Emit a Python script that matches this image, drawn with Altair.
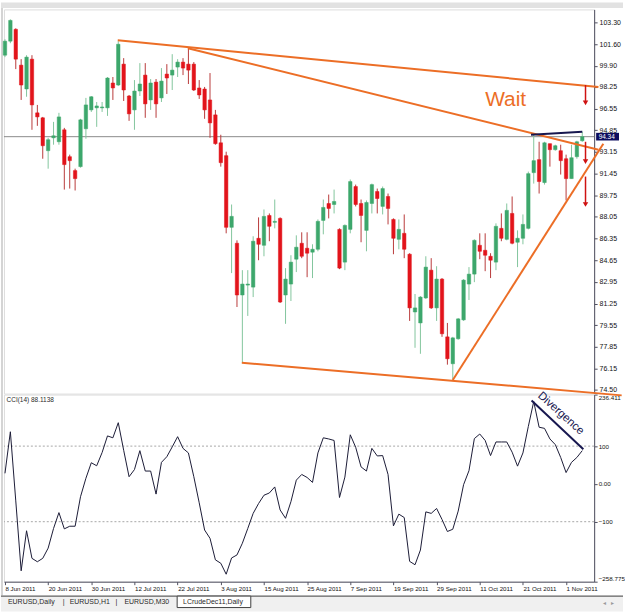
import json
import altair as alt
import pandas as pd

# ---------------- data ----------------
date_labels = ['8 Jun 2011', '20 Jun 2011', '30 Jun 2011', '12 Jul 2011', '22 Jul 2011',
               '3 Aug 2011', '15 Aug 2011', '25 Aug 2011', '7 Sep 2011', '19 Sep 2011',
               '29 Sep 2011', '11 Oct 2011', '21 Oct 2011', '1 Nov 2011']

opens = [100.73, 101.83, 102.76, 99.95, 98.08, 100.42, 96.21, 95.82, 93.24, 94.25,
         93.94, 94.88, 92.77, 91.68, 91.99, 94.96, 96.44, 96.60, 96.60, 96.60,
         98.55, 98.39, 100.03, 97.53, 96.44, 97.92, 99.17, 97.22, 98.62, 97.38,
         99.25, 99.17, 99.80, 100.19, 100.03, 100.03, 98.16, 98.08, 97.22, 96.05,
         93.86, 92.85, 87.23, 85.98, 81.92, 82.70, 82.54, 86.37, 85.82, 88.16,
         87.62, 87.93, 81.92, 82.78, 84.73, 85.98, 85.59, 85.28, 85.51, 87.77,
         89.10, 89.02, 87.07, 84.50, 87.07, 90.43, 89.10, 86.99, 89.10, 90.04,
         88.87, 89.65, 87.85, 86.29, 86.76, 85.12, 80.59, 79.73, 81.69, 83.87,
         80.91, 83.17, 78.64, 76.53, 78.49, 79.97, 82.78, 83.56, 85.82, 85.43,
         84.96, 84.50, 87.15, 86.29, 88.32, 86.06, 86.37, 87.15, 91.52, 92.54,
         90.74, 93.79, 93.32, 93.24, 92.61, 91.05, 92.77, 94.02]
highs = [101.98, 103.54, 102.84, 100.42, 100.73, 100.73, 96.83, 95.89, 94.25, 95.50,
         96.21, 95.03, 92.93, 91.83, 95.74, 97.38, 97.53, 97.06, 97.06, 99.02,
         99.02, 101.83, 100.50, 97.61, 98.78, 100.11, 100.11, 98.86, 98.86, 99.72,
         100.03, 100.81, 100.42, 100.50, 101.28, 100.19, 98.78, 98.24, 99.33, 96.44,
         94.49, 93.16, 89.02, 86.21, 83.87, 83.87, 86.53, 88.01, 88.63, 88.32,
         89.41, 88.01, 84.03, 85.04, 86.60, 86.84, 86.84, 85.90, 87.85, 89.41,
         89.80, 90.19, 87.15, 87.46, 90.98, 90.58, 89.41, 89.34, 90.66, 90.27,
         90.43, 89.88, 87.93, 87.85, 88.24, 85.20, 82.00, 81.84, 84.96, 84.81,
         84.18, 83.25, 79.73, 78.64, 80.12, 83.17, 84.11, 86.29, 86.76, 86.76,
         85.20, 87.54, 88.32, 89.10, 89.65, 86.99, 88.24, 91.60, 94.49, 93.94,
         93.94, 93.79, 93.71, 93.71, 92.93, 93.71, 94.02, 94.72]
lows = [100.58, 101.67, 99.64, 97.22, 97.47, 94.88, 95.19, 92.61, 91.83, 93.71,
        93.71, 90.19, 90.27, 90.12, 91.91, 94.18, 96.28, 95.11, 96.28, 95.97,
        97.22, 98.31, 97.14, 95.58, 94.88, 97.53, 95.82, 96.44, 95.82, 97.06,
        97.69, 98.00, 99.02, 99.17, 98.47, 97.92, 97.30, 95.74, 94.25, 93.71,
        91.99, 86.76, 83.64, 80.98, 76.61, 80.28, 81.76, 84.65, 84.96, 86.14,
        87.15, 81.30, 79.66, 81.45, 83.72, 84.81, 83.32, 83.25, 85.35, 86.68,
        87.93, 88.32, 83.95, 83.87, 86.76, 88.87, 86.06, 85.35, 88.32, 88.32,
        88.24, 87.46, 85.12, 85.51, 84.81, 79.89, 77.78, 77.31, 81.61, 80.83,
        79.89, 78.64, 76.46, 75.29, 78.41, 79.89, 81.53, 82.93, 84.73, 83.79,
        83.25, 83.87, 86.14, 86.21, 85.90, 84.11, 85.90, 87.07, 90.66, 89.88,
        90.58, 91.99, 93.24, 91.37, 89.34, 91.05, 92.61, 93.94]
closes = [101.83, 103.46, 100.42, 98.39, 100.58, 96.83, 95.89, 93.63, 94.10, 94.41,
          95.89, 92.15, 92.46, 91.05, 95.66, 96.83, 97.47, 96.75, 96.67, 98.94,
          98.16, 101.59, 98.00, 96.13, 97.92, 98.47, 96.91, 98.55, 96.91, 98.70,
          98.94, 99.56, 100.19, 99.72, 99.56, 98.00, 97.61, 96.44, 95.42, 93.79,
          92.30, 87.23, 88.09, 81.92, 82.78, 82.78, 86.14, 85.90, 88.09, 87.31,
          87.70, 81.37, 83.17, 84.50, 85.67, 84.96, 85.20, 85.51, 87.70, 88.79,
          88.71, 89.26, 84.03, 87.38, 90.82, 89.02, 88.16, 89.18, 90.58, 89.49,
          90.27, 88.71, 86.37, 87.07, 85.51, 80.91, 80.91, 81.76, 84.11, 80.91,
          83.17, 78.88, 76.92, 78.56, 80.05, 83.09, 83.56, 86.21, 85.35, 85.04,
          84.65, 87.31, 86.37, 88.56, 85.98, 86.37, 87.46, 91.44, 92.46, 90.82,
          93.86, 93.32, 93.63, 92.46, 91.05, 92.69, 93.94, 94.34]
cci = [28, 138, -45, -230, -124, -197, -206, -197, -170, -118,
       -76, -119, -112, -112, -34, 15, 56, 48, 83, 127,
       122, 162, 89, 19, 38, 88, 34, 34, -27, 57,
       72, 98, 125, 94, 82, 19, -50, -122, -144, -201,
       -210, -239, -196, -188, -157, -118, -78, -52, -30, -24,
       -8, -69, -91, -47, 10, 25, 17, 4, 82, 122,
       119, 115, -36, 18, 130, 97, 45, 34, 94, 74,
       75, 25, -111, -80, -89, -205, -214, -175, -74, -78,
       -65, -94, -126, -120, -72, -2, 35, 120, 132, 115,
       75, 111, 111, 111, 84, 47, 82, 152, 218, 150,
       147, 119, 104, 70, 30, 57, 70, 88.1138]

price_ticks = [103.30, 101.60, 99.90, 98.25, 96.55, 94.85, 93.15, 91.45, 89.75,
               88.05, 86.35, 84.65, 82.95, 81.25, 79.55, 77.85, 76.15, 74.50]
cci_ticks = [236.411, 100, 0, -100, -258.775]
cci_levels = [100, -100]

# hand-drawn objects (bar index, price)
trend_x1 = [20.9, 33.9, 43.9, 83.0]
trend_p1 = [101.90, 101.28, 76.61, 75.25]
trend_x2 = [110.0, 110.0, 114.3, 110.9]
trend_p2 = [98.24, 93.32, 74.05, 93.79]
flat_x = [97.5, 107.0]
flat_p = [94.49, 94.72]
arrow_x = [107.6, 107.6, 107.6]
arrow_top = [98.39, 93.94, 91.21]
arrow_head = [96.99, 92.38, 89.02]
wait_x, wait_p = 92.8, 96.72
div_x = [97.6, 107.2]
div_v = [220.6, 91.5]
div_text_x, div_text_v = 103.0, 186.0

tabs = ['EURUSD,Daily', 'EURUSD,H1', 'EURUSD,M30', 'LCrudeDec11,Daily']

# ---------------- chart ----------------
FONT = 'Liberation Sans'
UP_BODY, UP_WICK = '#3da76c', '#83c69d'
DN_BODY, DN_WICK = '#e2141b', '#b83a3a'
ORANGE = '#ec6e26'
NAVY = '#17174f'
ARROW = '#cf1212'
AX = '#505060'

n = len(opens)
candles = pd.DataFrame({'idx': list(range(n)), 'open': opens, 'high': highs,
                        'low': lows, 'close': closes})
cci_df = pd.DataFrame({'idx': list(range(n)), 'cci': cci})
last = closes[-1]

W, H_PRICE, H_CCI = 593, 386, 188
xs = alt.Scale(domain=[-0.185, 109.2], nice=False, zero=False)
ys = alt.Scale(domain=[74.19, 104.32], nice=False, zero=False)
cs = alt.Scale(domain=[-258.775, 236.411], nice=False, zero=False)

px_axis = alt.Axis(orient='right', values=price_ticks, format='.2f', grid=False,
                   tickSize=3, tickColor=AX, domainColor=AX, labelFontSize=7,
                   labelColor='#111111', labelPadding=2, labelFont=FONT, title=None,
                   labelOverlap=False, labelFlush=False)
date_axis = alt.Axis(values=[8 * k for k in range(len(date_labels))],
                     labelExpr=json.dumps(date_labels) + '[round(datum.value / 8)]',
                     labelAlign='left', labelFontSize=6.2, labelFont=FONT,
                     labelColor='#111111', tickSize=3, labelPadding=1, grid=False,
                     domainColor=AX, tickColor=AX, labelFlush=False,
                     labelOverlap=False, title=None)
cci_axis = alt.Axis(orient='right', values=cci_ticks,
                    labelExpr="datum.value == 0 ? '0.00' : (abs(datum.value) == 100 ? format(datum.value, 'd') : format(datum.value, '.3f'))",
                    grid=False, tickSize=3, tickColor=AX, domainColor=AX,
                    labelFontSize=6.3, labelFont=FONT, labelColor='#111111',
                    labelPadding=1, labelFlush=True, labelOverlap=False, title=None)


def XP(f):
    return alt.X(f, scale=xs, axis=None)


def YP(f):
    return alt.Y(f, scale=ys, axis=px_axis)


def XC(f):
    return alt.X(f, scale=xs, axis=date_axis)


def YC(f):
    return alt.Y(f, scale=cs, axis=cci_axis)


one = pd.DataFrame({'k': [0]})
up_test = 'datum.close >= datum.open'

top_strip = alt.Chart(one).mark_rect(color='#e2e2e2').encode(
    x=alt.value(-3), x2=alt.value(622), y=alt.value(-7), y2=alt.value(-1.5))
left_strip_p = alt.Chart(one).mark_rect(color='#d4d4d4').encode(
    x=alt.value(-3), x2=alt.value(-1), y=alt.value(-1.5), y2=alt.value(H_PRICE + 1))

cur_line = alt.Chart(pd.DataFrame({'p': [last]})).mark_rule(
    color='#8a8a8a', strokeWidth=1).encode(y=YP('p:Q'))

wicks = alt.Chart(candles).mark_rule(strokeWidth=1).encode(
    x=XP('idx:Q'), y=YP('low:Q'), y2='high:Q',
    color=alt.condition(up_test, alt.value(UP_WICK), alt.value(DN_WICK)))

bodies = alt.Chart(candles).transform_calculate(
    xl='datum.idx - 0.32', xr='datum.idx + 0.32'
).mark_bar(strokeWidth=0.5).encode(
    x=XP('xl:Q'), x2='xr:Q', y=YP('open:Q'), y2='close:Q',
    fill=alt.condition(up_test, alt.value(UP_BODY), alt.value(DN_BODY)),
    stroke=alt.condition(up_test, alt.value(UP_BODY), alt.value(DN_BODY)))

trend = alt.Chart(pd.DataFrame({'x1': trend_x1, 'p1': trend_p1, 'x2': trend_x2,
                                'p2': trend_p2})).mark_rule(
    color=ORANGE, strokeWidth=2).encode(x=XP('x1:Q'), x2='x2:Q', y=YP('p1:Q'), y2='p2:Q')

flat = alt.Chart(pd.DataFrame({'x1': [flat_x[0]], 'x2': [flat_x[1]], 'p1': [flat_p[0]],
                               'p2': [flat_p[1]]})).mark_rule(
    color=NAVY, strokeWidth=2).encode(x=XP('x1:Q'), x2='x2:Q', y=YP('p1:Q'), y2='p2:Q')

arrows_df = pd.DataFrame({'x': arrow_x, 'top': arrow_top, 'head': arrow_head})
shafts = alt.Chart(arrows_df).mark_rule(color=ARROW, strokeWidth=1.5).encode(
    x=XP('x:Q'), y=YP('top:Q'), y2='head:Q')
heads = alt.Chart(arrows_df).mark_point(shape='triangle-down', filled=True, size=30,
                                        color=ARROW, opacity=1).encode(
    x=XP('x:Q'), y=YP('head:Q'))

wait = alt.Chart(pd.DataFrame({'x': [wait_x], 'p': [wait_p], 't': ['Wait']})).mark_text(
    fontSize=21, font=FONT, color=ORANGE, align='center', baseline='alphabetic').encode(
    x=XP('x:Q'), y=YP('p:Q'), text='t:N')

box = alt.Chart(pd.DataFrame({'p1': [last - 0.3], 'p2': [last + 0.3]})).mark_rect(
    color='#0c0c5e').encode(x=alt.value(595), x2=alt.value(618), y=YP('p1:Q'), y2='p2:Q')
box_text = alt.Chart(pd.DataFrame({'p': [last], 't': [f'{last:.2f}']})).mark_text(
    fontSize=6.5, font=FONT, color='white', align='left', baseline='middle').encode(
    x=alt.value(597.5), y=YP('p:Q'), text='t:N')

price_chart = alt.layer(
    top_strip, left_strip_p, cur_line, wicks, bodies, trend, flat, shafts, heads,
    wait, box, box_text
).properties(width=W, height=H_PRICE)

# ---- CCI pane ----
levels = alt.Chart(pd.DataFrame({'v': cci_levels})).mark_rule(
    color='#a6a6a6', strokeDash=[2, 2], strokeWidth=1).encode(y=YC('v:Q'))
cci_line = alt.Chart(cci_df).mark_line(color='#1b1b36', strokeWidth=1).encode(
    x=XC('idx:Q'), y=YC('cci:Q'))
cci_title = alt.Chart(pd.DataFrame({'x': [0.3], 'v': [229.0],
                                    't': [f'CCI(14) {cci[-1]:.4f}']})).mark_text(
    fontSize=6.5, font=FONT, color='#2a2a2a', align='left', baseline='top').encode(
    x=XC('x:Q'), y=YC('v:Q'), text='t:N')
div_line = alt.Chart(pd.DataFrame({'x1': [div_x[0]], 'x2': [div_x[1]], 'v1': [div_v[0]],
                                   'v2': [div_v[1]]})).mark_rule(
    color=NAVY, strokeWidth=2).encode(x=XC('x1:Q'), x2='x2:Q', y=YC('v1:Q'), y2='v2:Q')
div_text = alt.Chart(pd.DataFrame({'x': [div_text_x], 'v': [div_text_v],
                                   't': ['Divergence']})).mark_text(
    fontSize=11.5, font=FONT, color=NAVY, angle=42, align='center',
    baseline='middle').encode(x=XC('x:Q'), y=YC('v:Q'), text='t:N')

left_strip_c = alt.Chart(one).mark_rect(color='#d4d4d4').encode(
    x=alt.value(-3), x2=alt.value(-1), y=alt.value(-1), y2=alt.value(202))
tab_bg = alt.Chart(one).mark_rect(color='#f0f0f0').encode(
    x=alt.value(-3), x2=alt.value(622), y=alt.value(202), y2=alt.value(218))
tab_line = alt.Chart(one).mark_rule(color='#404040', strokeWidth=1).encode(
    x=alt.value(-3), x2=alt.value(622), y=alt.value(202.5))
tab_active = alt.Chart(one).mark_rect(fill='white', stroke='#404040', strokeWidth=1).encode(
    x=alt.value(174), x2=alt.value(248), y=alt.value(202.5), y2=alt.value(214))

tab_layers = []
for label, xpos in zip(tabs + ['|', '|'], [4, 66, 121, 180, 59, 112]):
    tab_layers.append(alt.Chart(one).mark_text(
        fontSize=7, font=FONT, color='#2a2a2a', align='left', baseline='middle',
        text=label).encode(x=alt.value(xpos), y=alt.value(208.5)))
for sym, xpos in [('\u25c2', 602), ('\u25b8', 610)]:
    tab_layers.append(alt.Chart(one).mark_text(
        fontSize=6, color='#9a9a9a', align='left', baseline='middle',
        text=sym).encode(x=alt.value(xpos), y=alt.value(209)))

cci_chart = alt.layer(
    levels, cci_line, cci_title, div_line, div_text, left_strip_c, tab_bg, tab_line,
    tab_active, *tab_layers
).properties(width=W, height=H_CCI)

chart = alt.vconcat(price_chart, cci_chart, spacing=1, bounds='flush').properties(
    padding={'left': 0, 'top': 0, 'right': 0, 'bottom': 0}
).configure_view(stroke='#5a5a5a', strokeWidth=1).configure(background='white')

chart.save('out.html', embed_options={'renderer': 'svg', 'actions': False})
